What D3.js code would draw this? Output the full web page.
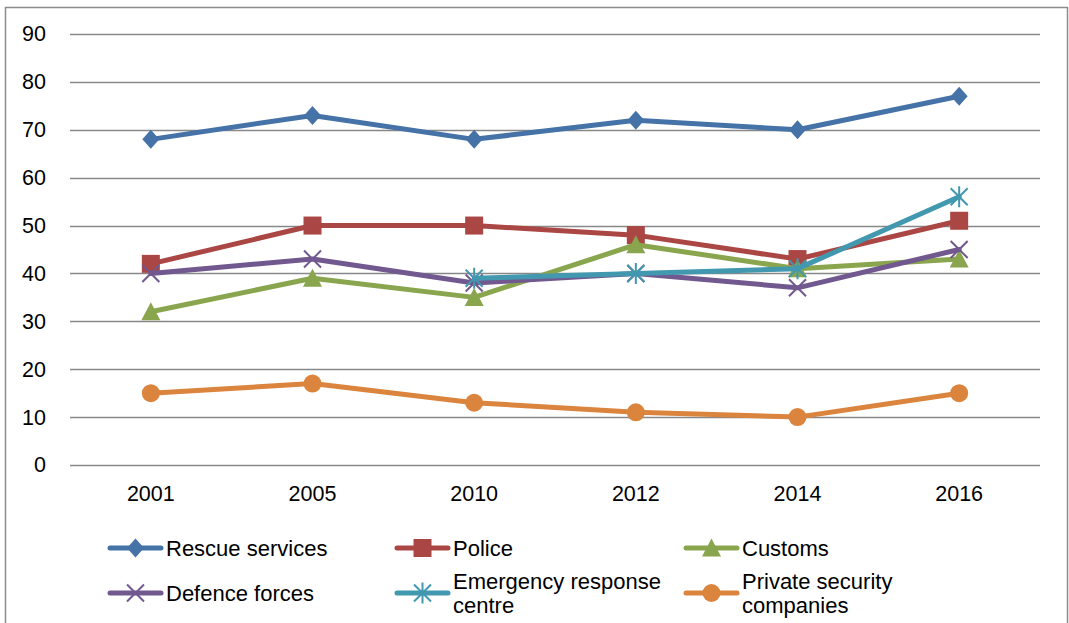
<!DOCTYPE html>
<html>
<head>
<meta charset="utf-8">
<script src="https://cdn.jsdelivr.net/npm/d3@7"></script>
<style>
  html, body { margin: 0; padding: 0; background: #fff; }
  svg { display: block; font-family: "Liberation Sans", Arial, sans-serif; }
</style>
</head>
<body>
<svg id="chart" width="1069" height="623"></svg>
<script>
// Survey years and series values
const years = ["2001", "2005", "2010", "2012", "2014", "2016"];
const rescueServices = [68, 73, 68, 72, 70, 77];
const police = [42, 50, 50, 48, 43, 51];
const customs = [32, 39, 35, 46, 41, 43];
const defenceForces = [40, 43, 38, 40, 37, 45];
const emergencyResponse = [null, null, 39, 40, 41, 56];
const privateSecurity = [15, 17, 13, 11, 10, 15];
const yTicks = [0, 10, 20, 30, 40, 50, 60, 70, 80, 90];

const seriesNames = ["Rescue services", "Police", "Customs", "Defence forces",
                     "Emergency response centre", "Private security companies"];

const series = [
  { name: seriesNames[0], values: rescueServices, color: "#4572A7", marker: "diamond" },
  { name: seriesNames[1], values: police, color: "#AA4643", marker: "square" },
  { name: seriesNames[2], values: customs, color: "#89A54E", marker: "triangle" },
  { name: seriesNames[3], values: defenceForces, color: "#71588F", marker: "x" },
  { name: seriesNames[4], values: emergencyResponse, color: "#4198AF", marker: "star" },
  { name: seriesNames[5], values: privateSecurity, color: "#DB843D", marker: "circle" }
];

const svg = d3.select("#chart");

// Outer chart frame (bottom edge runs off the canvas)
svg.append("path")
  .attr("d", "M5.5,626 L5.5,7.5 L1067.5,7.5 L1067.5,626")
  .attr("fill", "none")
  .attr("stroke", "#8c8c8c")
  .attr("stroke-width", 1.5);

const plot = { left: 70, right: 1040, top: 34, bottom: 465 };

const x = d3.scaleBand().domain(years).range([plot.left, plot.right]);
const y = d3.scaleLinear().domain([0, 90]).range([plot.bottom, plot.top]);
const cx = d => x(d) + x.bandwidth() / 2;

// Horizontal gridlines
svg.append("g")
  .selectAll("line")
  .data(yTicks)
  .join("line")
  .attr("x1", plot.left)
  .attr("x2", plot.right)
  .attr("y1", d => Math.round(y(d)) + 0.5)
  .attr("y2", d => Math.round(y(d)) + 0.5)
  .attr("stroke", "#888888")
  .attr("stroke-width", 1.6);

// Y axis labels
const yAxis = d3.axisLeft(y).tickValues(yTicks).tickSize(0).tickPadding(0);
const gy = svg.append("g").attr("transform", "translate(46,0)").call(yAxis);
gy.select(".domain").remove();
gy.selectAll("text")
  .attr("font-size", 21.5)
  .attr("fill", "#000")
  .style("font-family", "Liberation Sans, Arial, sans-serif");

// X axis labels
const xAxis = d3.axisBottom(x).tickSize(0).tickPadding(0);
const gx = svg.append("g").attr("transform", "translate(0,486)").call(xAxis);
gx.select(".domain").remove();
gx.selectAll("text")
  .attr("font-size", 21.5)
  .attr("fill", "#000")
  .style("font-family", "Liberation Sans, Arial, sans-serif");

// Marker drawing helper
function drawMarker(g, type, color, px, py) {
  const s = 8.5;
  if (type === "diamond") {
    g.append("path")
      .attr("d", `M${px},${py - 9.5} L${px + 8.5},${py} L${px},${py + 9.5} L${px - 8.5},${py} Z`)
      .attr("fill", color);
  } else if (type === "square") {
    g.append("rect")
      .attr("x", px - 9).attr("y", py - 9)
      .attr("width", 18).attr("height", 18)
      .attr("fill", color);
  } else if (type === "triangle") {
    g.append("path")
      .attr("d", `M${px},${py - 9.5} L${px + 9.5},${py + 8.5} L${px - 9.5},${py + 8.5} Z`)
      .attr("fill", color);
  } else if (type === "circle") {
    g.append("circle")
      .attr("cx", px).attr("cy", py).attr("r", 9)
      .attr("fill", color);
  } else if (type === "x") {
    g.append("path")
      .attr("d", `M${px - s},${py - s} L${px + s},${py + s} M${px - s},${py + s} L${px + s},${py - s}`)
      .attr("stroke", color).attr("stroke-width", 2).attr("fill", "none");
  } else if (type === "star") {
    g.append("path")
      .attr("d", `M${px - s},${py - s} L${px + s},${py + s} M${px - s},${py + s} L${px + s},${py - s} M${px},${py - s - 2} L${px},${py + s + 2}`)
      .attr("stroke", color).attr("stroke-width", 2).attr("fill", "none");
  }
}

// Lines and markers per series
const line = d3.line()
  .defined(d => d.v !== null)
  .x(d => cx(d.year))
  .y(d => y(d.v));

series.forEach(s => {
  const pts = years.map((yr, i) => ({ year: yr, v: s.values[i] }));
  const g = svg.append("g");
  g.append("path")
    .datum(pts)
    .attr("d", line)
    .attr("fill", "none")
    .attr("stroke", s.color)
    .attr("stroke-width", 5)
    .attr("stroke-linejoin", "round")
    .attr("stroke-linecap", "round");
  pts.filter(p => p.v !== null).forEach(p => drawMarker(g, s.marker, s.color, cx(p.year), y(p.v)));
});

// Legend
const legendCols = [110, 397, 686];
const legendRows = [548, 593];
const legendLabels = [
  ["Rescue services"], ["Police"], ["Customs"],
  ["Defence forces"], ["Emergency response", "centre"], ["Private security", "companies"]
];
series.forEach((s, i) => {
  const lx = legendCols[i % 3];
  const ly = legendRows[Math.floor(i / 3)];
  const g = svg.append("g");
  g.append("line")
    .attr("x1", lx).attr("x2", lx + 51)
    .attr("y1", ly).attr("y2", ly)
    .attr("stroke", s.color).attr("stroke-width", 5)
    .attr("stroke-linecap", "round");
  drawMarker(g, s.marker, s.color, lx + 25.5, ly);
  const lines = legendLabels[i];
  const t = g.append("text")
    .attr("x", lx + 56)
    .attr("font-size", 22)
    .attr("fill", "#000");
  lines.forEach((ln, j) => {
    t.append("tspan")
      .attr("x", lx + 56)
      .attr("y", ly + 8 + (lines.length === 1 ? 0 : (j === 0 ? -12 : 12)))
      .text(ln);
  });
});
</script>
</body>
</html>
